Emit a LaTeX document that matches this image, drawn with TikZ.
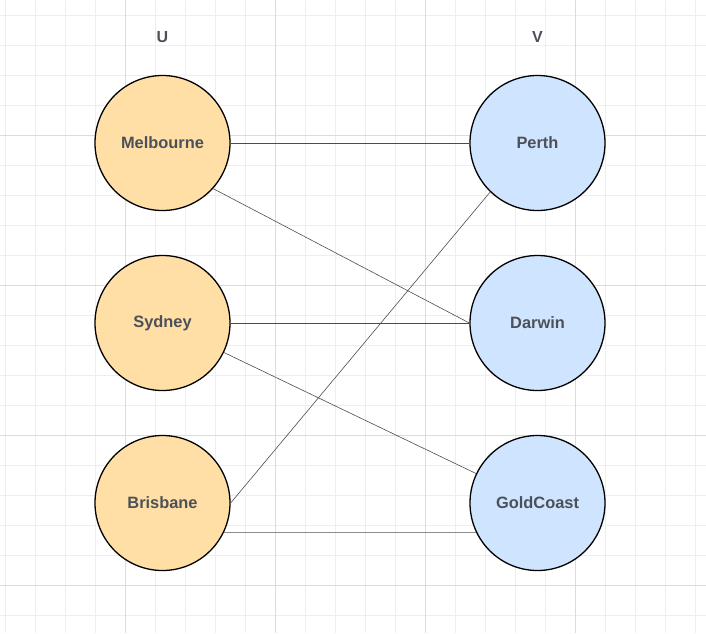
\documentclass[tikz,border=0pt]{standalone}
\usepackage{fontspec}
\setmainfont{Liberation Sans}
\usetikzlibrary{positioning}

\definecolor{cityorange}{HTML}{FFDFA6}
\definecolor{cityblue}{HTML}{CFE4FF}
\definecolor{labelgray}{HTML}{4C5159}
\definecolor{gridminor}{HTML}{EEEEEE}
\definecolor{gridmajor}{HTML}{DCDCDC}

\tikzset{
	city/.style={circle, draw, line width=1.3pt, minimum size=135pt, inner sep=0pt,
		font=\fontsize{16.4}{19}\selectfont\bfseries, text=labelgray},
	side/.style={font=\fontsize{16}{19}\selectfont\bfseries, text=labelgray},
	link/.style={line width=0.6pt, draw=black!70},
}

\begin{document}
\begin{tikzpicture}[x=1pt, y=-1pt]
			\useasboundingbox (0,0) rectangle (706,633);
			% Background grid
			\foreach \x in {5,35,...,695} \draw [gridminor, line width=0.8pt] (\x,0) -- (\x,633);
			\foreach \y in {15,45,...,615} \draw [gridminor, line width=0.8pt] (0,\y) -- (706,\y);
			\foreach \x in {125,275,425,575} \draw [gridmajor, line width=0.8pt] (\x,0) -- (\x,633);
			\foreach \y in {135,285,435,585} \draw [gridmajor, line width=0.8pt] (0,\y) -- (706,\y);
			% Define the nodes
			\node (Melbourne) [city, fill=cityorange] at (162.5,143) {Melbourne};
			\node (Sydney) [city, fill=cityorange, below=43.7pt of Melbourne] {Sydney};
			\node (Brisbane) [city, fill=cityorange, below=43.7pt of Sydney] {Brisbane};
			\node (Perth) [city, fill=cityblue, right=238.7pt of Melbourne] {Perth};
			\node (Darwin) [city, fill=cityblue, right=238.7pt of Sydney] {Darwin};
			\node (GoldCoast) [city, fill=cityblue, right=238.7pt of Brisbane] {GoldCoast};
			\node (U) [side, above=29pt of Melbourne] {U};
			\node (V) [side, above=29pt of Perth] {V};
			% Connect the nodes
			\draw [link] (Melbourne) -- (Perth);
			\draw [link] (Melbourne.-42) -- (Darwin.west);
			\draw [link] (Sydney) -- (Darwin);
			\draw [link] (Sydney) -- (GoldCoast);
			\draw [link] (Brisbane.east) -- (Perth.-134);
			\draw [link, line width=1.2pt, draw=black!45] (Brisbane.-26) -- (GoldCoast.-154);
		\end{tikzpicture}
\end{document}
